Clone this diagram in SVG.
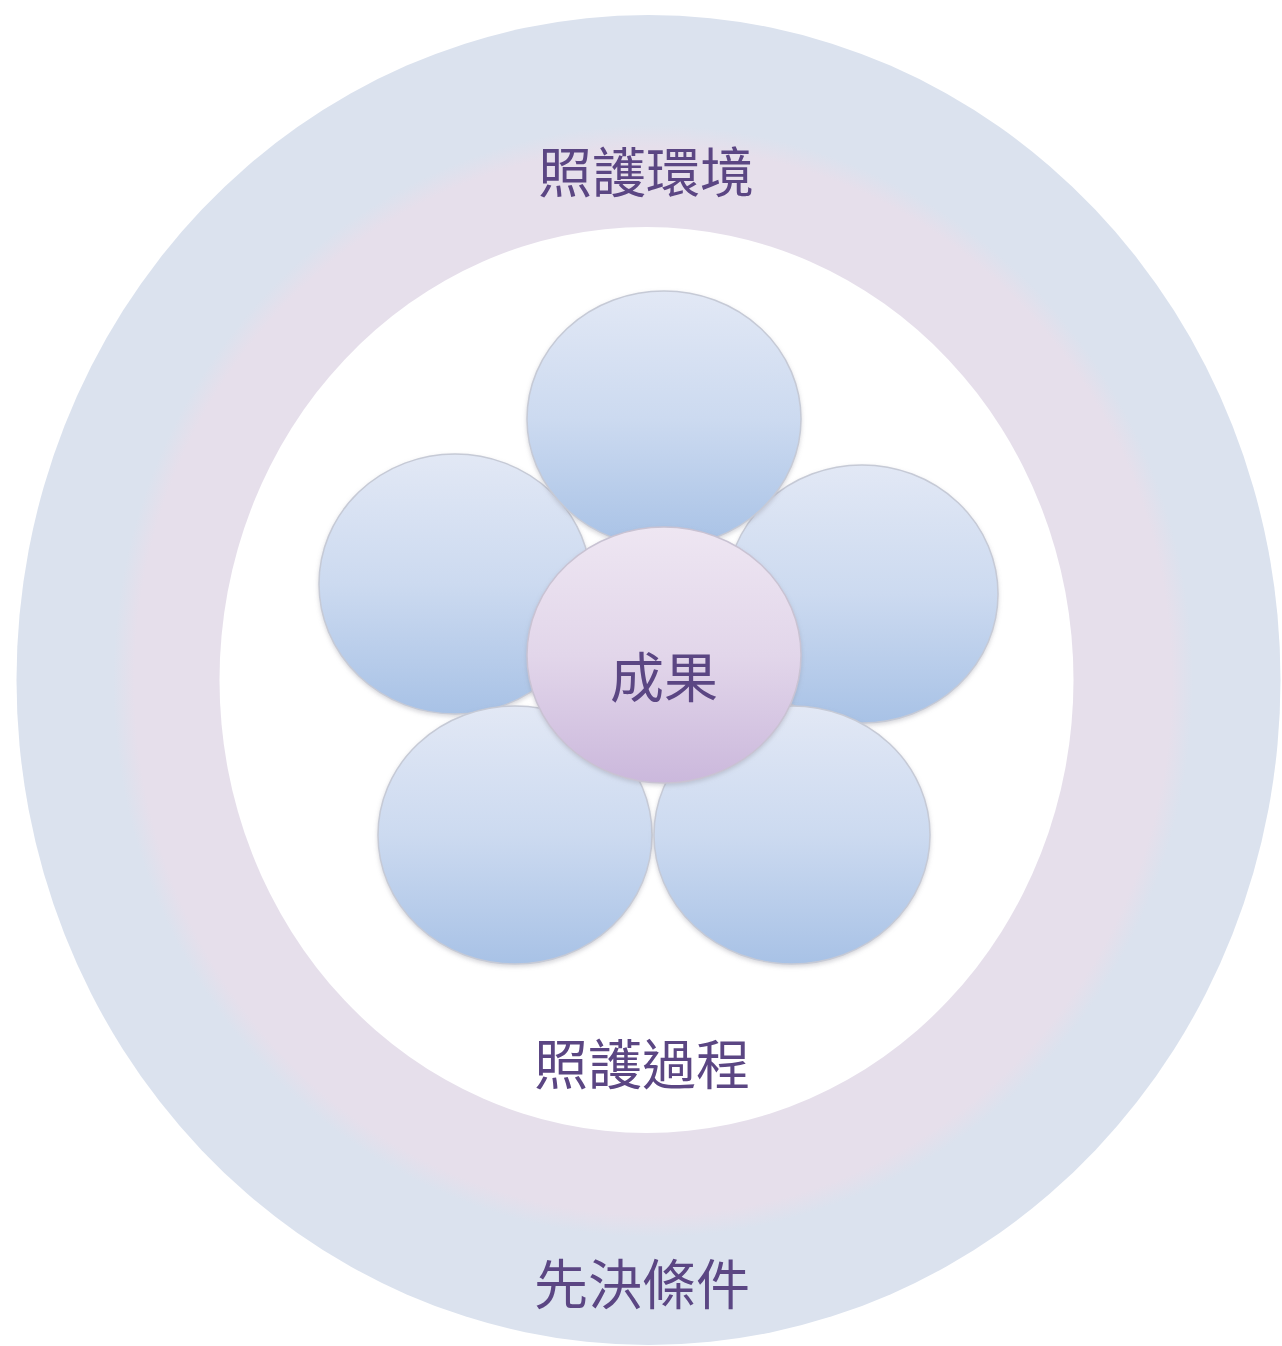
<svg xmlns="http://www.w3.org/2000/svg" width="1282" height="1346" viewBox="0 0 1282 1346">
  <style>
    .lbl { font-family: "Noto Sans CJK TC", "Noto Sans CJK SC", sans-serif; font-size: 54px; fill: #5b4683; text-anchor: middle; }
    .petal { fill: url(#petalGrad); stroke: #c6cad6; stroke-width: 1.5; filter: url(#shadow); }
    .core { fill: url(#coreGrad); stroke: #c9c3d3; stroke-width: 1.5; filter: url(#shadow); }
  </style>
  <defs>
    <linearGradient id="petalGrad" x1="0" y1="0" x2="0" y2="1">
      <stop offset="0" stop-color="#e2e8f5"/>
      <stop offset="0.5" stop-color="#ccdaf0"/>
      <stop offset="1" stop-color="#a8c2e6"/>
    </linearGradient>
    <linearGradient id="coreGrad" x1="0" y1="0" x2="0" y2="1">
      <stop offset="0" stop-color="#eee6f2"/>
      <stop offset="0.5" stop-color="#e2d6ea"/>
      <stop offset="1" stop-color="#cbb8dc"/>
    </linearGradient>
    <radialGradient id="pinkGrad" cx="0.5" cy="0.5" r="0.5">
      <stop offset="0" stop-color="#e6dfeb"/>
      <stop offset="0.96" stop-color="#e6dfeb"/>
      <stop offset="1" stop-color="#dbe2ee"/>
    </radialGradient>
    <filter id="shadow" x="-10%" y="-10%" width="120%" height="125%">
      <feDropShadow dx="0" dy="2" stdDeviation="2" flood-color="#8c8c99" flood-opacity="0.35"/>
    </filter>
  </defs>

  <g id="ring-prerequisites">
    <ellipse cx="648.5" cy="680" rx="632" ry="665" fill="#dbe2ee"/>
    <text class="lbl" x="642" y="1305">先決條件</text>
  </g>
  <g id="ring-environment">
    <ellipse cx="653" cy="681" rx="540" ry="556" fill="url(#pinkGrad)"/>
    <text class="lbl" x="646" y="193">照護環境</text>
  </g>
  <g id="ring-process">
    <ellipse cx="646.5" cy="680" rx="427" ry="453" fill="#ffffff"/>
    <text class="lbl" x="642" y="1085">照護過程</text>
  </g>

  <g id="petal-left"><ellipse class="petal" cx="455" cy="584" rx="136" ry="130"/></g>
  <g id="petal-right"><ellipse class="petal" cx="862" cy="594" rx="136" ry="129"/></g>
  <g id="petal-bottom-left"><ellipse class="petal" cx="515" cy="835" rx="137" ry="129"/></g>
  <g id="petal-bottom-right"><ellipse class="petal" cx="792" cy="835" rx="138" ry="129"/></g>
  <g id="petal-top"><ellipse class="petal" cx="664" cy="419" rx="137" ry="128"/></g>

  <g id="outcome">
    <ellipse class="core" cx="664" cy="655" rx="137" ry="128"/>
    <text class="lbl" x="664" y="698">成果</text>
  </g>

  <g id="connectors"></g>
</svg>
